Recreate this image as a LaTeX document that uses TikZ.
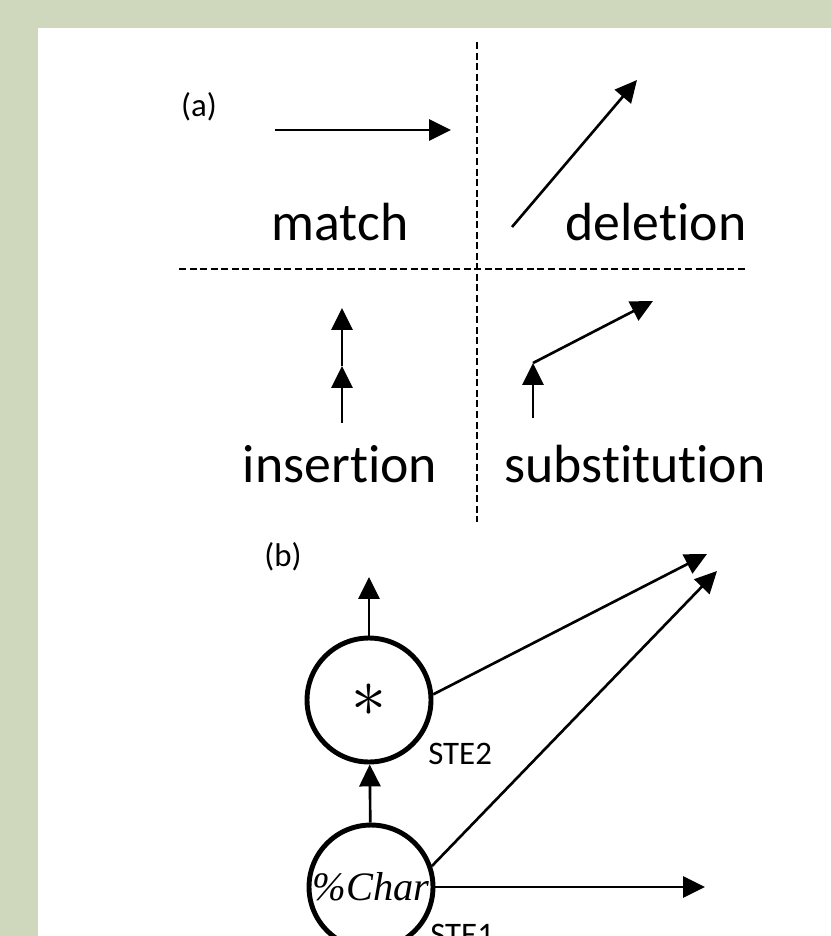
\documentclass[tikz,border=0pt]{standalone}
\usepackage{fontspec}
\usepackage{graphicx}
\setmainfont{Carlito}[Ligatures=NoCommon]
\newfontfamily\charfont{Liberation Serif}
\usetikzlibrary{arrows.meta,positioning}
\definecolor{PanelGreen}{HTML}{CFD8BC}
\definecolor{LineInk}{HTML}{000000}

\begin{document}
\begin{tikzpicture}[x=0.02cm, y=-0.02cm,
    move/.style={-{Triangle[length=12.5pt,width=12pt]}, line width=1.5pt, draw=LineInk},
    divider/.style={draw=LineInk, line width=1.1pt, dash pattern=on 4pt off 2pt},
    opname/.style={font=\fontsize{30.6}{36}\selectfont, anchor=base, inner sep=0pt},
    tag/.style={font=\fontsize{18.7}{22}\selectfont, inner sep=0pt},
    ste/.style={circle, draw=LineInk, line width=2.8pt, minimum size=2.48cm, inner sep=0pt}]
  % panel
  \fill[PanelGreen] (0,0) rectangle (831,936);
  \fill[white] (38,28) rectangle (831,936);
  \useasboundingbox (0,0) rectangle (831,936);

  % (a) edit moves
  \node[tag] (taga) at (199,107) {(a)};
  \draw[divider] (477,42) -- (477,522);
  \draw[divider] (179,269) -- (746,269);

  \coordinate (match0) at (275,130);
  \coordinate (match1) at (451,130);
  \draw[move] (match0) -- (match1);
  \coordinate (del0) at (512,227);
  \coordinate (del1) at (637,80);
  \draw[move] (del0) -- (del1);
  \coordinate (ins0) at (342,423);
  \coordinate (ins1) at (342,366);
  \coordinate (ins2) at (342,308);
  \draw[move] (ins0) -- (ins1);
  \draw[move] (ins1) -- (ins2);
  \coordinate (sub0) at (533,418);
  \coordinate (sub1) at (533,363);
  \coordinate (sub2) at (653,301);
  \draw[move] (sub0) -- (sub1);
  \draw[move] (sub1) -- (sub2);

  \node[opname] (match) at (340,240) {match};
  \node[opname] (deletion) at (656,240) {deletion};
  \node[opname] (insertion) at (340,482) {insertion};
  \node[opname] (substitution) at (635,482) {substitution};

  % (b) STE network
  \node[tag] (tagb) at (283,557) {(b)};
  \node[ste] (STE2) at (369,700) {\raisebox{-3pt}{\scalebox{1.6}{\Huge$\ast$}}};
  \node[ste] (STE1) at (371,887) {\fontsize{23}{28}\selectfont\charfont\itshape\%Char};
  \node[tag, anchor=base west] (lab2) at (428,764) {STE2};
  \node[tag, anchor=base west] (lab1) at (430,945) {STE1};

  \coordinate (up2) at (369,577);
  \coordinate (farA) at (707,554);
  \coordinate (farB) at (717,571);
  \coordinate (farC) at (705,887);
  \draw[move] (STE2) -- (up2);
  \draw[move] (STE2.5) -- (farA);
  \draw[move] (STE1.19) -- (farB);
  \draw[move] (STE1) -- (farC);
  \draw[move] (STE1) -- (STE2);
\end{tikzpicture}
\end{document}
